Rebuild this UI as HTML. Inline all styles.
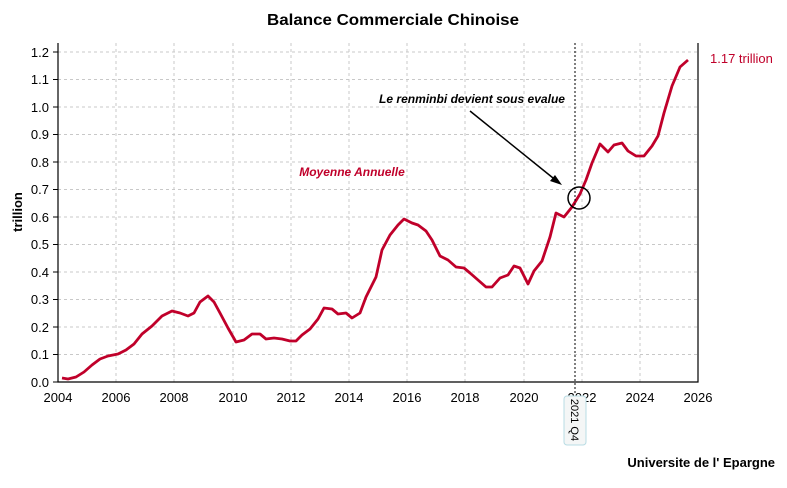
<!DOCTYPE html><html><head><meta charset="utf-8"><style>body{margin:0;background:#fff}svg{font-family:"Liberation Sans",sans-serif}</style></head><body>
<svg width="787" height="483" viewBox="0 0 787 483" xmlns="http://www.w3.org/2000/svg">
<rect width="787" height="483" fill="#fff"/>
<text x="393" y="25" text-anchor="middle" font-size="16" font-weight="bold" textLength="252" lengthAdjust="spacingAndGlyphs">Balance Commerciale Chinoise</text>
<g stroke="#c8c8c8" stroke-dasharray="3,3" stroke-width="1">
<line x1="58" x2="698" y1="52" y2="52"/><line x1="58" x2="698" y1="79.5" y2="79.5"/><line x1="58" x2="698" y1="107" y2="107"/><line x1="58" x2="698" y1="134.5" y2="134.5"/><line x1="58" x2="698" y1="162" y2="162"/><line x1="58" x2="698" y1="189.5" y2="189.5"/><line x1="58" x2="698" y1="217" y2="217"/><line x1="58" x2="698" y1="244.5" y2="244.5"/><line x1="58" x2="698" y1="272" y2="272"/><line x1="58" x2="698" y1="299.5" y2="299.5"/><line x1="58" x2="698" y1="327" y2="327"/><line x1="58" x2="698" y1="354.5" y2="354.5"/>
<line x1="116" x2="116" y1="43" y2="382"/><line x1="174" x2="174" y1="43" y2="382"/><line x1="233" x2="233" y1="43" y2="382"/><line x1="291" x2="291" y1="43" y2="382"/><line x1="349" x2="349" y1="43" y2="382"/><line x1="407" x2="407" y1="43" y2="382"/><line x1="465" x2="465" y1="43" y2="382"/><line x1="524" x2="524" y1="43" y2="382"/><line x1="582" x2="582" y1="43" y2="382"/><line x1="640" x2="640" y1="43" y2="382"/>
</g>
<path d="M58 43V382H698V43" fill="none" stroke="#000" stroke-width="1.2"/>
<g stroke="#000"><line x1="53" x2="58" y1="52" y2="52"/><line x1="53" x2="58" y1="79.5" y2="79.5"/><line x1="53" x2="58" y1="107" y2="107"/><line x1="53" x2="58" y1="134.5" y2="134.5"/><line x1="53" x2="58" y1="162" y2="162"/><line x1="53" x2="58" y1="189.5" y2="189.5"/><line x1="53" x2="58" y1="217" y2="217"/><line x1="53" x2="58" y1="244.5" y2="244.5"/><line x1="53" x2="58" y1="272" y2="272"/><line x1="53" x2="58" y1="299.5" y2="299.5"/><line x1="53" x2="58" y1="327" y2="327"/><line x1="53" x2="58" y1="354.5" y2="354.5"/><line x1="53" x2="58" y1="382" y2="382"/></g>
<g font-size="13" text-anchor="end">
<text x="49" y="57">1.2</text><text x="49" y="84">1.1</text><text x="49" y="112">1.0</text><text x="49" y="139">0.9</text><text x="49" y="167">0.8</text><text x="49" y="194">0.7</text><text x="49" y="222">0.6</text><text x="49" y="249">0.5</text><text x="49" y="277">0.4</text><text x="49" y="304">0.3</text><text x="49" y="332">0.2</text><text x="49" y="359">0.1</text><text x="49" y="387">0.0</text></g>
<g font-size="13" text-anchor="middle">
<text x="58" y="402">2004</text><text x="116" y="402">2006</text><text x="174" y="402">2008</text><text x="233" y="402">2010</text><text x="291" y="402">2012</text><text x="349" y="402">2014</text><text x="407" y="402">2016</text><text x="465" y="402">2018</text><text x="524" y="402">2020</text><text x="582" y="402">2022</text><text x="640" y="402">2024</text><text x="698" y="402">2026</text></g>
<text transform="translate(22,212) rotate(-90)" font-size="13" font-weight="bold" text-anchor="middle">trillion</text>
<polyline fill="none" stroke="#c0002a" stroke-width="2.8" stroke-linejoin="round" points="62,378 68,379 76,377 84,372 92,365 100,359 108,356 118,354 126,350 134,344 142,334 152,326 162,316 172,311 180,313 188,316 194,313 200,302 208,296 214,302 220,313 228,328 236,342 244,340 252,334 260,334 266,339 274,338 282,339 290,341 296,341 302,335 310,329 318,319 324,308 332,309 338,314 346,313 352,318 360,313 366,297 376,277 382,250 390,235 398,225 404,219 412,223 418,225 426,231 432,240 440,256 448,260 456,267 464,268 470,273 478,280 486,287 492,287 500,278 508,275 514,266 520,268 528,284 534,271 542,261 550,237 556,213 564,217 572,207 580,194 586,180 592,163 600,144 608,152 614,145 622,143 628,151 636,156 644,156 652,146 658,136 664,113 672,86 680,67 688,60"/>
<line x1="575" x2="575" y1="43" y2="395" stroke="#000" stroke-dasharray="2,2"/>
<circle cx="579" cy="198" r="11" fill="none" stroke="#000" stroke-width="1.5"/>
<line x1="470" y1="111" x2="558" y2="182" stroke="#000" stroke-width="1.5"/>
<path d="M562 185 L550 181 L555 175 Z" fill="#000"/>
<text x="472" y="103" font-size="12" font-weight="bold" font-style="italic" text-anchor="middle" textLength="186" lengthAdjust="spacingAndGlyphs">Le renminbi devient sous evalue</text>
<text x="352" y="176" font-size="12" font-weight="bold" font-style="italic" fill="#c0002a" text-anchor="middle">Moyenne Annuelle</text>
<text x="710" y="63" font-size="13" fill="#c0002a">1.17 trillion</text>
<rect x="564" y="396" width="22" height="49" rx="3" fill="#f4f6f6" stroke="#b8dce4"/>
<text transform="translate(571,420) rotate(90)" font-size="11" text-anchor="middle">2021 Q4</text>
<text x="775" y="467" font-size="13" font-weight="bold" text-anchor="end">Universite de l' Epargne</text>
</svg></body></html>
